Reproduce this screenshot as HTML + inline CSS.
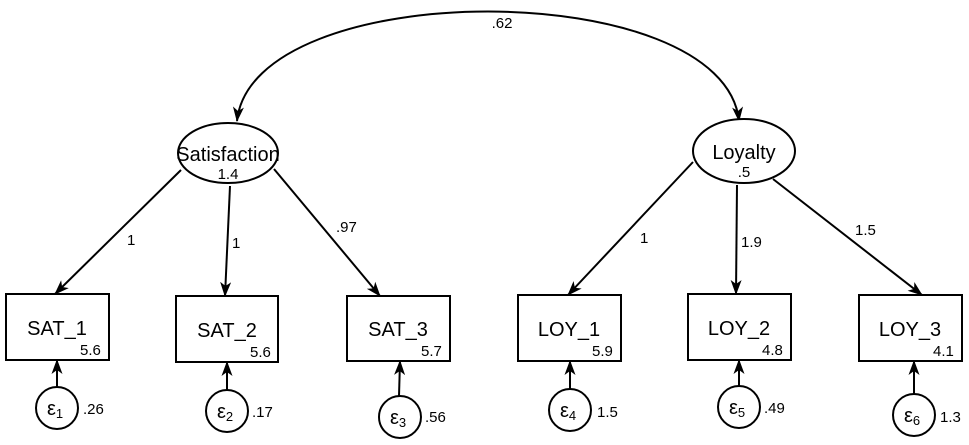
<!DOCTYPE html>
<html><head><meta charset="utf-8"><style>
html,body{margin:0;padding:0;background:#fff;}
svg{display:block;font-family:"Liberation Sans",Arial,sans-serif;}
</style></head><body>
<svg width="969" height="445" viewBox="0 0 969 445" xmlns="http://www.w3.org/2000/svg">
<defs>
<marker id="a" markerWidth="15" markerHeight="11" refX="14" refY="5.5" orient="auto-start-reverse" markerUnits="userSpaceOnUse">
<path d="M0,0 L15,5.5 L0,11 L4,5.5 Z" fill="#000"/>
</marker>
</defs>
<g stroke="#000" stroke-width="2" fill="none">
<path d="M237,121 C 252,-25 724,-25 739,121" marker-start="url(#a)" marker-end="url(#a)"/>
<ellipse cx="228" cy="153" rx="50" ry="30" fill="#fff"/>
<ellipse cx="744" cy="151" rx="51" ry="32" fill="#fff"/>
<line x1="181" y1="170" x2="55" y2="294" marker-end="url(#a)"/>
<line x1="230" y1="186" x2="225" y2="296" marker-end="url(#a)"/>
<line x1="274" y1="169" x2="380" y2="296" marker-end="url(#a)"/>
<line x1="693" y1="162" x2="568" y2="295" marker-end="url(#a)"/>
<line x1="737" y1="185" x2="736" y2="294" marker-end="url(#a)"/>
<line x1="773" y1="179" x2="922" y2="295" marker-end="url(#a)"/>
<rect x="6" y="294" width="103" height="66"/>
<rect x="176" y="296" width="102" height="66"/>
<rect x="347" y="296" width="103" height="65"/>
<rect x="518" y="295" width="103" height="66"/>
<rect x="688" y="294" width="103" height="66"/>
<rect x="859" y="295" width="103" height="66"/>
<circle cx="57" cy="408" r="21"/>
<circle cx="227" cy="411" r="21"/>
<circle cx="400" cy="417" r="21"/>
<circle cx="570" cy="410" r="21"/>
<circle cx="739" cy="407" r="21"/>
<circle cx="914" cy="415" r="21"/>
<line x1="57" y1="387" x2="57" y2="360" marker-end="url(#a)"/>
<line x1="227" y1="390" x2="227" y2="362" marker-end="url(#a)"/>
<line x1="399" y1="396" x2="400" y2="361" marker-end="url(#a)"/>
<line x1="570" y1="389" x2="570" y2="361" marker-end="url(#a)"/>
<line x1="739" y1="386" x2="739" y2="360" marker-end="url(#a)"/>
<line x1="914" y1="394" x2="914" y2="361" marker-end="url(#a)"/>
</g>
<g font-size="20" text-anchor="middle" fill="#000">
<text x="228" y="161">Satisfaction</text>
<text x="744" y="159">Loyalty</text>
<text x="57" y="335">SAT_1</text>
<text x="227" y="337">SAT_2</text>
<text x="398" y="336">SAT_3</text>
<text x="569" y="336">LOY_1</text>
<text x="739" y="335">LOY_2</text>
<text x="910" y="336">LOY_3</text>
</g>
<g font-size="15" fill="#000">
<text x="228" y="179" text-anchor="middle">1.4</text>
<text x="744" y="177" text-anchor="middle">.5</text>
<text x="502" y="28" text-anchor="middle">.62</text>
<text x="127" y="245">1</text>
<text x="232" y="248">1</text>
<text x="336" y="232">.97</text>
<text x="640" y="243">1</text>
<text x="741" y="247">1.9</text>
<text x="855" y="235">1.5</text>
<text x="80" y="355">5.6</text>
<text x="250" y="357">5.6</text>
<text x="421" y="356">5.7</text>
<text x="592" y="356">5.9</text>
<text x="762" y="355">4.8</text>
<text x="933" y="356">4.1</text>
<text x="83" y="414">.26</text>
<text x="252" y="417">.17</text>
<text x="425" y="422">.56</text>
<text x="597" y="417">1.5</text>
<text x="764" y="413">.49</text>
<text x="940" y="422">1.3</text>
</g>
<g font-size="20" fill="#000">
<text x="47" y="415">ε<tspan font-size="13" dy="3">1</tspan></text>
<text x="217" y="418">ε<tspan font-size="13" dy="3">2</tspan></text>
<text x="390" y="424">ε<tspan font-size="13" dy="3">3</tspan></text>
<text x="560" y="417">ε<tspan font-size="13" dy="3">4</tspan></text>
<text x="729" y="414">ε<tspan font-size="13" dy="3">5</tspan></text>
<text x="904" y="422">ε<tspan font-size="13" dy="3">6</tspan></text>
</g>
</svg>
</body></html>
